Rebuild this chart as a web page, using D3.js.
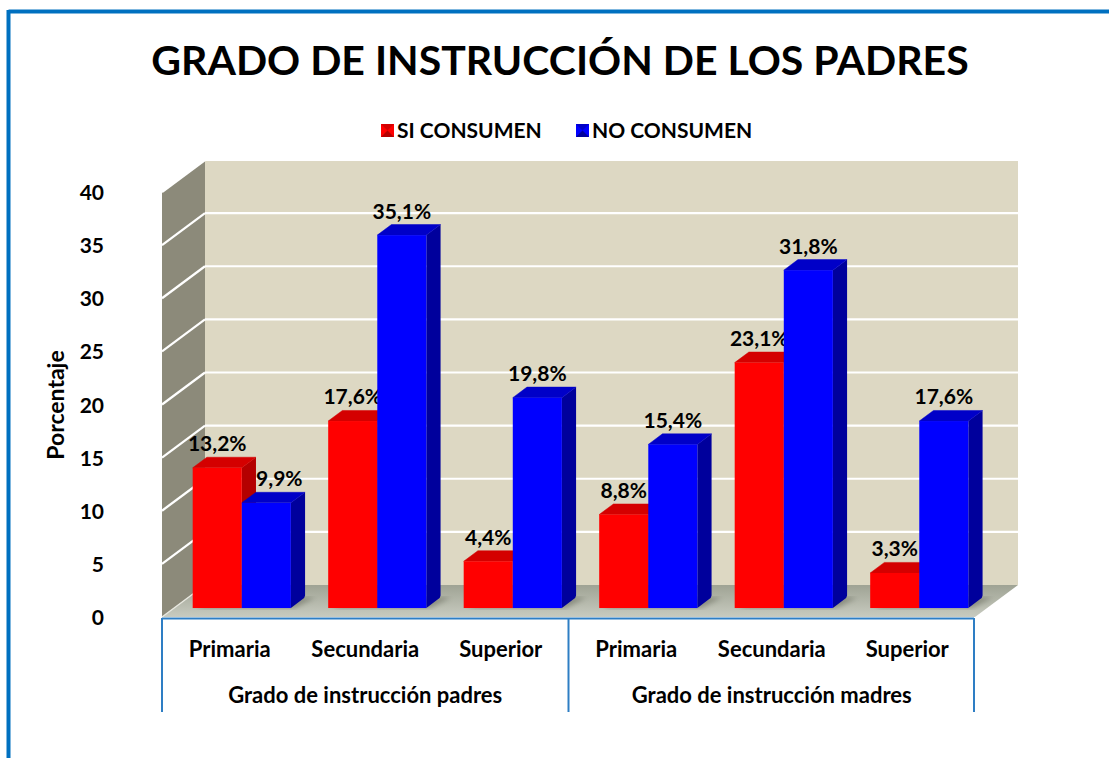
<!DOCTYPE html>
<html>
<head>
<meta charset="utf-8">
<script src="https://cdn.jsdelivr.net/npm/d3@7"></script>
<style>
  body { margin: 0; background: #fff; }
  svg { display: block; font-family: Lato, "Open Sans", sans-serif; }
</style>
</head>
<body>
<svg id="chart" width="1109" height="758"></svg>
<script>
var categories = ["Primaria", "Secundaria", "Superior", "Primaria", "Secundaria", "Superior"];
var groups = ["Grado de instrucción padres", "Grado de instrucción madres"];
var series = ["SI CONSUMEN", "NO CONSUMEN"];
var siConsumen = [13.2, 17.6, 4.4, 8.8, 23.1, 3.3];
var noConsumen = [9.9, 35.1, 19.8, 15.4, 31.8, 17.6];
var yTicks = [0, 5, 10, 15, 20, 25, 30, 35, 40];

var svg = d3.select("#chart");

var frontLeft = 162, frontRight = 975, depthX = 43, depthY = -32;
var f1 = 0.28, f2 = 0.61;   // depth fraction of the bars

var x = d3.scaleBand().domain(d3.range(categories.length)).range([frontLeft, frontRight]);
var xSub = d3.scaleBand().domain(series).range([0, x.bandwidth()]).paddingOuter(0.38);
var y = d3.scaleLinear().domain([0, 40]).range([617, 192]);

var colors = {
  "SI CONSUMEN": {front: "#ff0000", side: "#b40000", top: "#d40000"},
  "NO CONSUMEN": {front: "#0000ff", side: "#00009c", top: "#0000c8"}
};

var defs = svg.append("defs");
var fl = defs.append("linearGradient").attr("id", "floorGrad").attr("x1", 0).attr("y1", 0).attr("x2", 0).attr("y2", 1);
fl.append("stop").attr("offset", "0%").attr("stop-color", "#9fa394");
fl.append("stop").attr("offset", "100%").attr("stop-color", "#c8cbc0");
defs.append("filter").attr("id", "blur").append("feGaussianBlur").attr("stdDeviation", 2.5);

// outer frame
svg.append("line").attr("x1", 8.5).attr("x2", 1109).attr("y1", 11.5).attr("y2", 11.5)
  .attr("stroke", "#0070c0").attr("stroke-width", 4);
svg.append("line").attr("x1", 8.5).attr("x2", 8.5).attr("y1", 10).attr("y2", 758)
  .attr("stroke", "#0070c0").attr("stroke-width", 4);

// title
svg.append("text").attr("x", 560).attr("y", 75).attr("text-anchor", "middle")
  .attr("font-size", 41).attr("font-weight", "bold").attr("fill", "#000")
  .text("GRADO DE INSTRUCCIÓN DE LOS PADRES");

// legend
var legendX = [381, 576];
series.forEach(function(s, i) {
  var lg = svg.append("g").attr("transform", "translate(" + legendX[i] + ",124)");
  lg.append("rect").attr("width", 13).attr("height", 13).attr("fill", colors[s].front);
  lg.append("path").attr("d", "M0,0L13,0L6.5,6.5Z").attr("fill", colors[s].top);
  lg.append("path").attr("d", "M0,13L13,13L6.5,6.5Z").attr("fill", colors[s].side);
  lg.append("text").attr("x", 16).attr("y", 14).attr("font-size", 21).attr("font-weight", "bold")
    .text(s);
});

// back wall
var y0 = y(0), y40 = y(40);
svg.append("rect").attr("x", frontLeft + depthX).attr("y", y40 + depthY)
  .attr("width", frontRight - frontLeft).attr("height", y0 - y40)
  .attr("fill", "#ddd8c3");
// left wall
svg.append("path")
  .attr("d", "M" + frontLeft + "," + y0 + "L" + frontLeft + "," + y40 +
    "L" + (frontLeft + depthX) + "," + (y40 + depthY) + "L" + (frontLeft + depthX) + "," + (y0 + depthY) + "Z")
  .attr("fill", "#8c8a7a");
// floor
svg.append("path")
  .attr("d", "M" + frontLeft + "," + y0 + "L" + frontRight + "," + y0 +
    "L" + (frontRight + depthX) + "," + (y0 + depthY) + "L" + (frontLeft + depthX) + "," + (y0 + depthY) + "Z")
  .attr("fill", "url(#floorGrad)");

// gridlines
yTicks.filter(function(d) { return d > 0; }).forEach(function(t) {
  svg.append("line").attr("x1", frontLeft + depthX).attr("x2", frontRight + depthX)
    .attr("y1", y(t) + depthY).attr("y2", y(t) + depthY)
    .attr("stroke", "#ffffff").attr("stroke-width", 2.2);
  svg.append("line").attr("x1", frontLeft).attr("x2", frontLeft + depthX)
    .attr("y1", y(t)).attr("y2", y(t) + depthY)
    .attr("stroke", "#ffffff").attr("stroke-width", 2.2);
});
svg.append("line").attr("x1", frontLeft).attr("x2", frontLeft + depthX)
  .attr("y1", y0).attr("y2", y0 + depthY).attr("stroke", "#e8e8e0").attr("stroke-width", 1.5);

// bars
var data = [];
categories.forEach(function(c, i) {
  data.push({i: i, s: series[0], v: siConsumen[i]});
  data.push({i: i, s: series[1], v: noConsumen[i]});
});

var ax = depthX * f1, ay = depthY * f1;
var bx = depthX * (f2 - f1), by = depthY * (f2 - f1);

// shadows on floor
svg.append("g").selectAll("path").data(data).enter().append("path")
  .attr("d", function(d) {
    var x0 = x(d.i) + xSub(d.s) + ax + 4, w = xSub.bandwidth();
    var yb = y0 + ay;
    return "M" + x0 + "," + yb + "L" + (x0 + w) + "," + yb + "L" + (x0 + w + bx + 6) + "," + (yb + by) +
      "L" + (x0 + bx + 6) + "," + (yb + by) + "Z";
  })
  .attr("fill", "#55584a").attr("opacity", 0.45).attr("filter", "url(#blur)");

var bars = svg.append("g").selectAll("g").data(data).enter().append("g");

bars.each(function(d) {
  var g = d3.select(this);
  var x0 = x(d.i) + xSub(d.s) + ax, w = xSub.bandwidth();
  var yb = y0 + ay, yt = y(d.v) + ay;
  g.append("path")
    .attr("d", "M" + (x0 + w) + "," + yb + "L" + (x0 + w) + "," + yt + "L" + (x0 + w + bx) + "," + (yt + by) +
      "L" + (x0 + w + bx) + "," + (yb + by - 2) + "Q" + (x0 + w + bx) + "," + (yb + by) + " " + (x0 + w + bx - 3) + "," + (yb + by + 2) + "Z")
    .attr("fill", colors[d.s].side);
  g.append("path")
    .attr("d", "M" + x0 + "," + yt + "L" + (x0 + w) + "," + yt + "L" + (x0 + w + bx) + "," + (yt + by) +
      "L" + (x0 + bx) + "," + (yt + by) + "Z")
    .attr("fill", colors[d.s].top).attr("stroke", colors[d.s].top).attr("stroke-width", 0.5);
  g.append("rect").attr("x", x0).attr("y", yt).attr("width", w).attr("height", yb - yt)
    .attr("fill", colors[d.s].front);
});

// value labels
bars.append("text")
  .attr("x", function(d) {
    var c = x(d.i) + xSub(d.s) + ax + xSub.bandwidth() / 2;
    return d.i === 0 && d.s === series[1] ? c + 13 : c;
  })
  .attr("y", function(d) { return y(d.v) + ay + by - 6; })
  .attr("text-anchor", "middle").attr("font-size", 21).attr("font-weight", "bold")
  .text(function(d) { return d3.format(".1f")(d.v).replace(".", ",") + "%"; });

// y axis labels
svg.append("g").selectAll("text").data(yTicks).enter().append("text")
  .attr("x", 104).attr("y", function(d) { return y(d) + 8; })
  .attr("text-anchor", "end").attr("font-size", 21).attr("font-weight", "bold")
  .text(function(d) { return d; });

svg.append("text").attr("transform", "translate(64,405) rotate(-90)")
  .attr("text-anchor", "middle").attr("font-size", 23).attr("font-weight", "bold")
  .text("Porcentaje");

// category axis
var axisCol = "#2e7ec4";
svg.append("line").attr("x1", frontLeft).attr("x2", frontRight - 1).attr("y1", 618.5).attr("y2", 618.5)
  .attr("stroke", axisCol).attr("stroke-width", 2);
[0, 3, 6].forEach(function(k) {
  var xx = k < 6 ? x(k) : frontRight - 1;
  svg.append("line").attr("x1", xx).attr("x2", xx).attr("y1", 618).attr("y2", 712)
    .attr("stroke", axisCol).attr("stroke-width", 2);
});
svg.append("g").selectAll("text").data(categories).enter().append("text")
  .attr("x", function(d, i) { return x(i) + x.bandwidth() / 2; })
  .attr("y", 657).attr("text-anchor", "middle").attr("font-size", 22).attr("font-weight", "bold")
  .text(function(d) { return d; });
svg.append("g").selectAll("text").data(groups).enter().append("text")
  .attr("x", function(d, i) { return (x(i * 3) + (i * 3 + 3 < 6 ? x(i * 3 + 3) : frontRight)) / 2; })
  .attr("y", 703).attr("text-anchor", "middle").attr("font-size", 22).attr("font-weight", "bold")
  .text(function(d) { return d; });
</script>
</body>
</html>
